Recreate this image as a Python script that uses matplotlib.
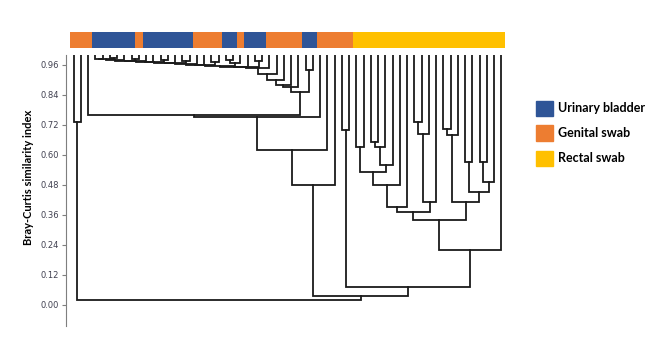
import numpy as np
import matplotlib.pyplot as plt
from matplotlib.patches import Rectangle

# sample type runs along the leaf order (left to right)
type_runs = [('G', 3), ('U', 6), ('G', 1), ('U', 7), ('G', 4), ('U', 2), ('G', 1),
             ('U', 3), ('G', 5), ('U', 2), ('G', 5), ('R', 21)]
type_names = {'U': 'Urinary bladder', 'G': 'Genital swab', 'R': 'Rectal swab'}
type_colors = {'U': '#2F5597', 'G': '#ED7D31', 'R': '#FFC000'}

# similarity at which leaf i and leaf i+1 first end up in the same cluster
gap_sim = [0.73, 0.02, 0.76,
           0.985, 0.982, 0.986, 0.979, 0.977, 0.983, 0.975, 0.973, 0.970, 0.980,
           0.968, 0.966, 0.975, 0.963, 0.961, 0.958, 0.972, 0.956, 0.978, 0.968,
           0.953, 0.950, 0.975, 0.947,
           0.925, 0.90, 0.88, 0.87, 0.85, 0.94, 0.75, 0.62, 0.48, 0.035,
           0.70, 0.07, 0.63, 0.53, 0.65, 0.63, 0.56, 0.48, 0.39, 0.37,
           0.73, 0.685, 0.41, 0.34, 0.705, 0.68, 0.41, 0.57, 0.45, 0.57, 0.49, 0.22]

y_ticks = [0.00, 0.12, 0.24, 0.36, 0.48, 0.60, 0.72, 0.84, 0.96]

leaf_types = [t for t, k in type_runs for _ in range(k)]
n = len(leaf_types)

W, H = 656, 355
fig = plt.figure(figsize=(W / 100, H / 100), dpi=100)

# dendrogram
ax = fig.add_axes([66 / W, (H - 326) / H, 439 / W, 271 / H])
clusters = [{'hi': i, 'x': i + 0.5, 'h': 1.0} for i in range(n)]
for g in np.argsort(-np.array(gap_sim), kind='stable'):
    k = next(j for j, c in enumerate(clusters) if c['hi'] == g)
    a, b = clusters[k], clusters[k + 1]
    h = gap_sim[g]
    ax.plot([a['x'], a['x'], b['x'], b['x']], [a['h'], h, h, b['h']],
            color='#1a1a1a', lw=1.3, solid_joinstyle='miter')
    clusters[k:k + 2] = [{'hi': b['hi'], 'x': (a['x'] + b['x']) / 2, 'h': h}]

ax.set_xlim(-4 / 7.25, n)
ax.set_ylim(-0.085, 1.0)
for s in ['top', 'right', 'bottom']:
    ax.spines[s].set_visible(False)
ax.spines['left'].set_color('#7f7f7f')
ax.set_xticks([])
ax.set_yticks(y_ticks)
ax.set_yticklabels([f'{v:.2f}' for v in y_ticks], fontsize=6, color='#404050')
ax.tick_params(axis='y', length=3, color='#7f7f7f', pad=2)
fig.text(29 / W, (H - 177) / H, 'Bray-Curtis similarity index', rotation=90,
         ha='center', va='center', fontsize=8, fontweight='bold', family='Lato')

# sample type strip above the tree
bar = fig.add_axes([70 / W, (H - 48) / H, 435 / W, 16 / H])
bar.bar(np.arange(n), 1, width=1, align='edge',
        color=[type_colors[t] for t in leaf_types], linewidth=0)
bar.set_xlim(0, n)
bar.set_ylim(0, 1)
bar.axis('off')

# legend
for i, t in enumerate(['U', 'G', 'R']):
    yc = 108 + 25 * i
    fig.add_artist(Rectangle((536 / W, (H - yc - 7.5) / H), 17 / W, 15 / H,
                             transform=fig.transFigure, color=type_colors[t]))
    fig.text(558 / W, (H - yc) / H, type_names[t], ha='left', va='center',
             fontsize=9, fontweight='bold', family='Lato')

fig.savefig('out.png', dpi=100)
